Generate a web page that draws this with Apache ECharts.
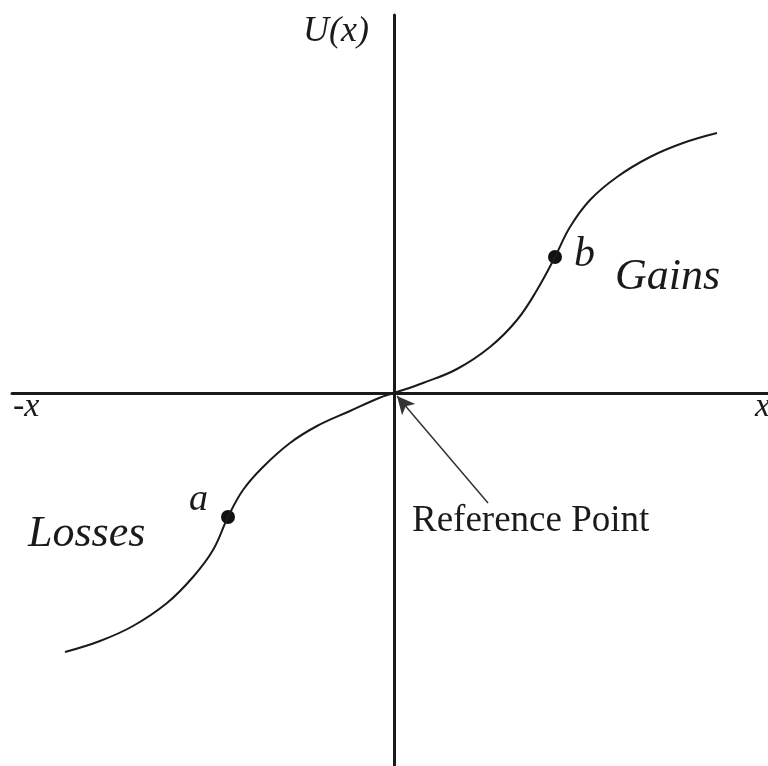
<!DOCTYPE html>
<html>
<head>
<meta charset="utf-8">
<script src="https://cdn.jsdelivr.net/npm/echarts@6/dist/echarts.min.js"></script>
<style>
  html, body { margin: 0; padding: 0; background: #fff; }
  #main { width: 768px; height: 766px; }
</style>
</head>
<body>
<div id="main"></div>
<script>
// value function U(x) (origin = reference point)
var curveX = [-32.9, -29.4, -26.1, -22.7, -20.1, -18.1, -16.6, -15.1, -13.1, -10.4, -7.7, -4.4, -1.5, 0,
              2.9, 6.3, 9.6, 12.3, 14.3, 16.1, 17.6, 19.6, 22.3, 25.6, 28.9, 32.3];
var curveY = [-25.9, -24.8, -23.3, -21.0, -18.4, -15.7, -12.4, -9.7, -7.4, -5.0, -3.3, -1.8, -0.5, 0,
              1.0, 2.4, 4.6, 7.3, 10.3, 13.6, 16.6, 19.3, 21.6, 23.6, 25.0, 26.0];

// marked points a and b
var pointNames = ['a', 'b'];
var pointX = [-16.6, 16.1];
var pointY = [-12.4, 13.6];

// arrow to reference point
var arrowFrom = [9.4, -11.0];
var arrowTo = [0.3, -0.3];

var serif = '"Liberation Serif", "DejaVu Serif", serif';
var ink = '#1a1a1a';

var curveData = curveX.map(function (x, i) { return [x, curveY[i]]; });

var myChart = echarts.init(document.getElementById('main'));
var option = {
    backgroundColor: '#fff',
    animation: false,
    grid: { left: 12, right: 0, top: 15, bottom: 0 },
    xAxis: {
        type: 'value', min: -38.2, max: 37.4,
        axisLine: { onZero: true, lineStyle: { color: ink, width: 3 } },
        axisTick: { show: false }, axisLabel: { show: false }, splitLine: { show: false }
    },
    yAxis: {
        type: 'value', min: -37.3, max: 37.8,
        axisLine: { onZero: true, lineStyle: { color: ink, width: 3 } },
        axisTick: { show: false }, axisLabel: { show: false }, splitLine: { show: false }
    },
    series: [
        {
            type: 'line',
            data: curveData,
            smooth: 0.4,
            showSymbol: false,
            lineStyle: { color: ink, width: 2 },
            markLine: {
                silent: true,
                symbol: ['none', 'arrow'],
                symbolSize: [13, 18],
                label: { show: false },
                lineStyle: { color: '#333', width: 1.5, type: 'solid' },
                data: [[{ coord: arrowFrom }, { coord: arrowTo }]]
            }
        },
        {
            type: 'scatter',
            symbolSize: 14,
            itemStyle: { color: '#111', opacity: 1 },
            data: [
                {
                    value: [pointX[0], pointY[0]], name: pointNames[0],
                    label: { show: true, formatter: pointNames[0], position: 'left', distance: 13, offset: [0, -17],
                             fontFamily: serif, fontStyle: 'italic', fontSize: 38, color: ink }
                },
                {
                    value: [pointX[1], pointY[1]], name: pointNames[1],
                    label: { show: true, formatter: pointNames[1], position: 'right', distance: 12, offset: [0, -2],
                             fontFamily: serif, fontStyle: 'italic', fontSize: 42, color: ink }
                }
            ]
        }
    ],
    graphic: [
        { type: 'text', left: 303, top: 14, style: { text: 'U(x)', font: 'italic 36px ' + serif, fill: ink } },
        { type: 'text', left: 13, top: 390, style: { text: '-x', font: 'italic 34px ' + serif, fill: ink } },
        { type: 'text', left: 755, top: 390, style: { text: 'x', font: 'italic 34px ' + serif, fill: ink } },
        { type: 'text', left: 615, top: 255, style: { text: 'Gains', font: 'italic 44px ' + serif, fill: ink } },
        { type: 'text', left: 28, top: 512, style: { text: 'Losses', font: 'italic 44px ' + serif, fill: ink } },
        { type: 'text', left: 412, top: 503, style: { text: 'Reference Point', font: '37px ' + serif, fill: ink } }
    ]
};
myChart.setOption(option);
</script>
</body>
</html>
